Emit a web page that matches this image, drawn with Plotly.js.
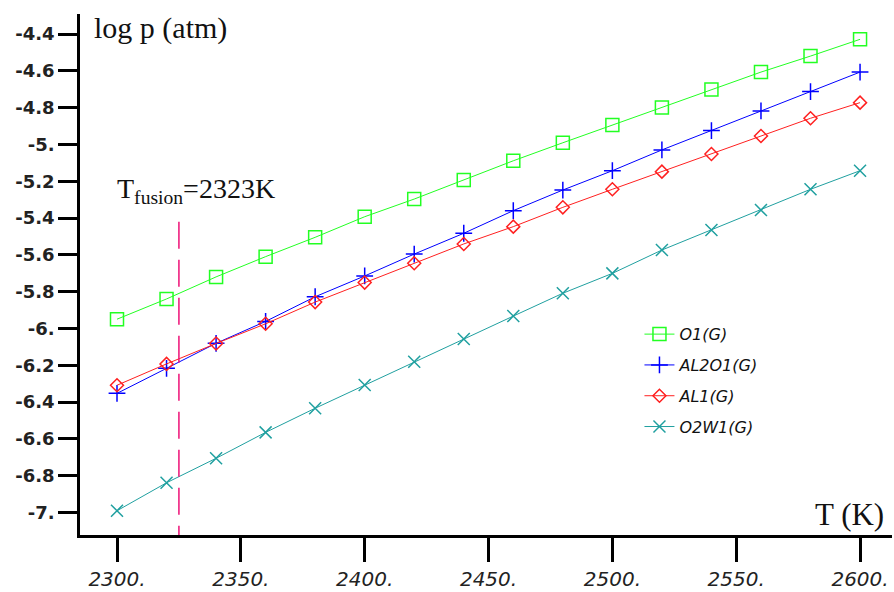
<!DOCTYPE html>
<html>
<head>
<meta charset="utf-8">
<script src="https://cdn.plot.ly/plotly-3.0.1.min.js"></script>
<style>html,body{margin:0;padding:0;background:#fff;}#chart{width:894px;height:592px;}</style>
</head>
<body>
<div id="chart"></div>
<script>
// Temperatures (K)
const temperatures = [2300, 2320, 2340, 2360, 2380, 2400, 2420, 2440, 2460, 2480, 2500, 2520, 2540, 2560, 2580, 2600];
// log p (atm) for each gas species
const o1G    = [-5.95, -5.84, -5.72, -5.61, -5.505, -5.393, -5.297, -5.193, -5.089, -4.991, -4.895, -4.799, -4.701, -4.607, -4.520, -4.429];
const al2o1G = [-6.353, -6.217, -6.081, -5.962, -5.828, -5.715, -5.596, -5.483, -5.360, -5.248, -5.143, -5.030, -4.925, -4.818, -4.713, -4.607];
const al1G   = [-6.309, -6.193, -6.082, -5.975, -5.857, -5.751, -5.646, -5.541, -5.447, -5.342, -5.244, -5.148, -5.052, -4.954, -4.858, -4.773];
const o2w1G  = [-6.991, -6.839, -6.706, -6.565, -6.434, -6.308, -6.181, -6.058, -5.933, -5.809, -5.701, -5.574, -5.465, -5.357, -5.244, -5.143];
const seriesNames = ['O1(G)', 'AL2O1(G)', 'AL1(G)', 'O2W1(G)'];

// Fusion temperature marker
const fusionLabel = 'T<sub>fusion</sub>=2323K';
const fusionLineT = [2325, 2325];
const fusionLineY = [-5.42, -7.2];

// Axis ticks
const xTickVals = [2300, 2350, 2400, 2450, 2500, 2550, 2600];
const xTickText = ['2300.', '2350.', '2400.', '2450.', '2500.', '2550.', '2600.'];
const yTickVals = [-7.0, -6.8, -6.6, -6.4, -6.2, -6.0, -5.8, -5.6, -5.4, -5.2, -5.0, -4.8, -4.6, -4.4];
const yTickText = ['-7.', '-6.8', '-6.6', '-6.4', '-6.2', '-6.', '-5.8', '-5.6', '-5.4', '-5.2', '-5.', '-4.8', '-4.6', '-4.4'];

const seriesData = [o1G, al2o1G, al1G, o2w1G];
const colors = ['#22ff22', '#0000ff', '#ff2020', '#20a0a0'];
const symbols = ['square-open', 'cross-thin-open', 'diamond-open', 'x-thin-open'];
const sizes = [13, 12, 10, 12];

const traces = seriesData.map((ys, i) => ({
  x: temperatures,
  y: ys,
  name: seriesNames[i],
  legendgroup: 'g' + i,
  type: 'scatter',
  mode: 'lines+markers',
  line: {color: colors[i], width: 1},
  marker: {symbol: symbols[i], size: sizes[i], color: colors[i], line: {color: colors[i], width: 1.5}}
}));

traces.push({
  x: fusionLineT,
  y: fusionLineY,
  type: 'scatter',
  mode: 'lines',
  showlegend: false,
  hoverinfo: 'skip',
  line: {color: '#ee1177', width: 1.5, dash: '27px,11px'}
});

const layout = {
  width: 894,
  height: 592,
  margin: {l: 80, r: 2, t: 14, b: 57},
  showlegend: true,
  legend: {
    x: 0.689, y: 0.418, xanchor: 'left', yanchor: 'top',
    bgcolor: 'rgba(0,0,0,0)',
    traceorder: 'grouped',
    tracegroupgap: 7,
    font: {family: 'DejaVu Sans', size: 16, color: '#111', style: 'italic'}
  },
  xaxis: {
    range: [2285.06, 2612.9],
    tickmode: 'array', tickvals: xTickVals, ticktext: xTickText,
    showgrid: true, gridcolor: 'rgba(0,0,0,0)',
    showline: true, linecolor: 'black', linewidth: 2.5,
    ticks: 'outside', ticklen: 24, tickwidth: 3, tickcolor: 'black',
    tickfont: {family: 'DejaVu Sans', size: 20, color: '#222', style: 'italic'}
  },
  yaxis: {
    range: [-7.1228, -4.2913],
    tickmode: 'array', tickvals: yTickVals, ticktext: yTickText.map(t => '<b>' + t + '</b>'),
    showgrid: true, gridcolor: 'rgba(0,0,0,0)',
    showline: true, linecolor: 'black', linewidth: 2.5,
    ticks: 'outside', ticklen: 19, tickwidth: 3, tickcolor: 'black',
    tickfont: {family: 'DejaVu Sans', size: 18, color: '#222'}
  },
  annotations: [
    {text: 'log p (atm)', xref: 'paper', yref: 'paper', x: 0.0148, y: 0.973, xanchor: 'left', yanchor: 'middle', showarrow: false,
     font: {family: 'Liberation Serif', size: 30, color: '#111'}},
    {text: 'T (K)', xref: 'paper', yref: 'paper', x: 0.993, y: 0.04, xanchor: 'right', yanchor: 'middle', showarrow: false,
     font: {family: 'Liberation Serif', size: 31, color: '#111'}},
    {text: fusionLabel, xref: 'paper', yref: 'paper', x: 0.043, y: 0.662, xanchor: 'left', yanchor: 'middle', showarrow: false,
     font: {family: 'Liberation Serif', size: 28, color: '#111'}}
  ]
};

Plotly.newPlot('chart', traces, layout, {displayModeBar: false});
</script>
</body>
</html>
